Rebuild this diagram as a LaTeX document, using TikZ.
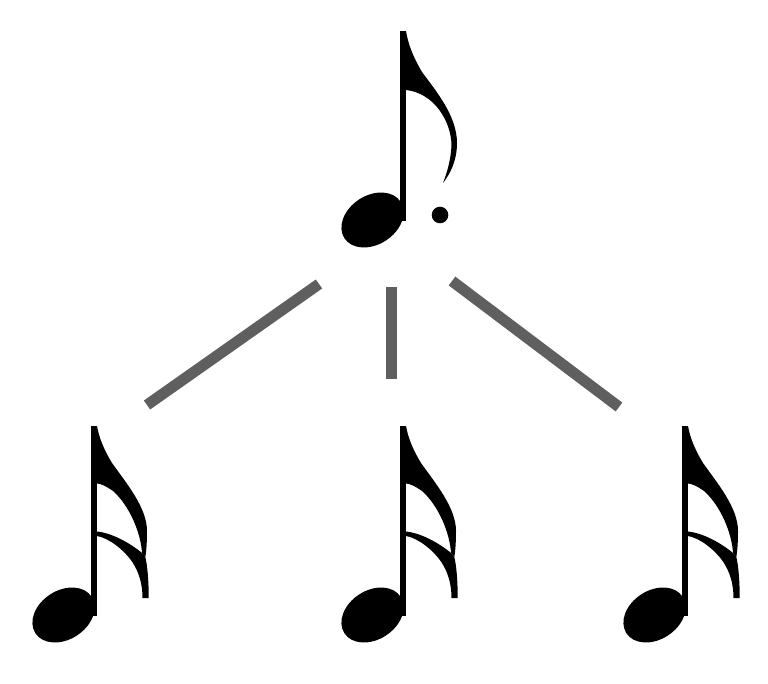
\documentclass[tikz,border=0pt]{standalone}
\definecolor{linkgray}{HTML}{5F5F5F}
\tikzset{
  link/.style={draw=linkgray, line width=11pt},
  notestem/.pic={
    \fill (-6,0) rectangle (0,190);
    \fill[rotate around={33:(-33.5,189)}] (-33.5,189) ellipse [x radius=33.5, y radius=24.5];
  },
  sixteenth/.pic={
    \pic {notestem};
    % upper flag
    \fill (0,0) .. controls (2,11) and (6,22) .. (15,37)
          .. controls (30,58) and (50,82) .. (50,105)
          .. controls (50,115) and (49.5,124) .. (48.3,131)
          -- (45,127)
          .. controls (44,108) and (33,80) .. (16,65)
          .. controls (9,60) and (3,57.5) .. (0,57.5) -- cycle;
    % lower flag
    \fill (0,105.5) .. controls (15,107) and (33,117) .. (45,127)
          -- (48.3,131)
          .. controls (50.5,140) and (51.7,155) .. (51.7,172)
          -- (45.5,172)
          .. controls (45.5,158) and (42,146) .. (35,135.5)
          .. controls (27,124) and (12,112) .. (0,110) -- cycle;
  },
  eighth/.pic={
    \pic {notestem};
    \fill (0,0) .. controls (2,12) and (6,24) .. (16,41)
          .. controls (30,60) and (51,85) .. (51,112)
          .. controls (51,130) and (44,143) .. (37,152)
          .. controls (41,142) and (45,128) .. (45.5,114)
          .. controls (45,90) and (28,62) .. (0,59) -- cycle;
  }
}
\begin{document}
\begin{tikzpicture}[x=1pt, y=-1pt]
  \useasboundingbox (0,0) rectangle (768,684);
  % notes
  \pic (top) at (406,31) {eighth};
  \fill (440,215) circle [radius=8.3];
  \pic (left) at (97,426) {sixteenth};
  \pic (mid) at (406,426) {sixteenth};
  \pic (right) at (688,426) {sixteenth};
  % link end points
  \coordinate (la) at (319,284);
  \coordinate (lb) at (147,405);
  \coordinate (ma) at (391.5,287);
  \coordinate (mb) at (391.5,379);
  \coordinate (ra) at (452,281);
  \coordinate (rb) at (619,407);
  \draw[link] (la) -- (lb);
  \draw[link] (ma) -- (mb);
  \draw[link] (ra) -- (rb);
\end{tikzpicture}
\end{document}
